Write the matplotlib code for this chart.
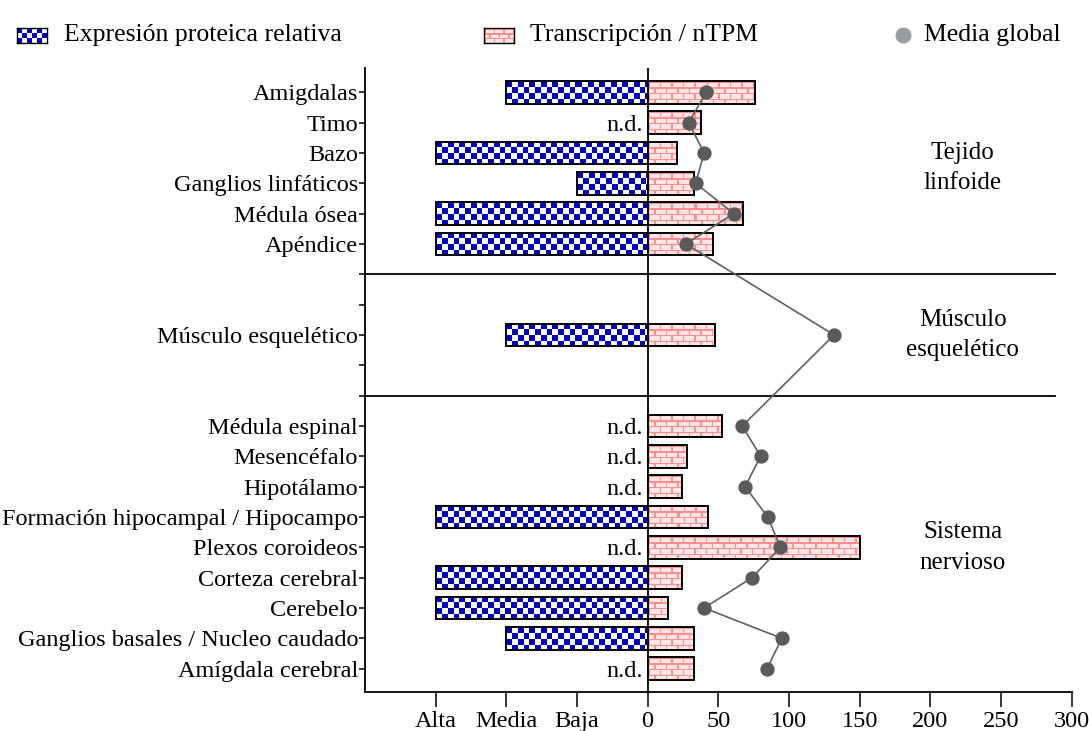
import numpy as np
import matplotlib
matplotlib.use("Agg")
import matplotlib.pyplot as plt
from matplotlib.patches import Rectangle
from matplotlib.lines import Line2D

# ---------------- data ----------------
group_names = ["Tejido\nlinfoide", "Músculo\nesquelético", "Sistema\nnervioso"]
group_sizes = [6, 1, 9]
categories = ["Amigdalas", "Timo", "Bazo", "Ganglios linfáticos", "Médula ósea", "Apéndice",
              "Músculo esquelético",
              "Médula espinal", "Mesencéfalo", "Hipotálamo", "Formación hipocampal / Hipocampo",
              "Plexos coroideos", "Corteza cerebral", "Cerebelo",
              "Ganglios basales / Nucleo caudado", "Amígdala cerebral"]
protein_level = ["Media", None, "Alta", "Baja", "Alta", "Alta",
                 "Media",
                 None, None, None, "Alta", None, "Alta", "Alta", "Media", None]
ntpm = [76, 38, 20.5, 32.5, 67.5, 46,
        48,
        53, 28, 24.5, 42.5, 150, 24.5, 14.5, 33, 33]
global_mean = [41.5, 29, 40, 34, 61, 27,
               132,
               67, 80, 69, 85, 94, 74, 40, 95, 84.5]
level_labels = ["Alta", "Media", "Baja"]
level_values = [150, 100, 50]
right_ticks = [0, 50, 100, 150, 200, 250, 300]

# ---------------- layout ----------------
plt.rcParams["font.family"] = ["Liberation Serif", "DejaVu Serif"]
FS = 17.5
fig = plt.figure(figsize=(10.89, 7.31), dpi=100)
ax = fig.add_axes([365 / 1089, 1 - 692.3 / 731, (1071.5 - 365) / 1089, (692.3 - 67.7) / 731])
XMIN, XMAX = -200, 300
YTOP, YBOT = -0.81, 19.78
ax.set_xlim(XMIN, XMAX)
ax.set_ylim(YBOT, YTOP)

# positions of rows (single-item groups get one padding slot on each side)
positions, dividers, group_centers = [], [], []
cur = 0
for gi, n in enumerate(group_sizes):
    pad = 1 if n == 1 else 0
    start = cur
    cur += pad
    for k in range(n):
        positions.append(cur)
        cur += 1
    cur += pad
    group_centers.append((start + cur - 1) / 2)
    if gi < len(group_sizes) - 1:
        dividers.append(cur)
        cur += 1

BAR_H = 0.75
level_map = dict(zip(level_labels, level_values))

blue = np.array([0.0, 0.0, 0.76])
white = np.array([1.0, 1.0, 1.0])
mortar = np.array([1.0, 0.56, 0.56])
brick = np.array([1.0, 0.90, 0.90])


def checker(hpx, wpx, s=5.75):
    yy, xx = np.mgrid[0:hpx, 0:wpx]
    m = ((np.floor(xx / s) + np.floor(yy / s)) % 2).astype(bool)
    img = np.tile(white, (hpx, wpx, 1)).astype(float)
    img[~m] = blue
    return img


def bricks(hpx, wpx, bh=5.75, bw=11.5):
    yy, xx = np.mgrid[0:hpx, 0:wpx]
    row = np.floor(yy / bh)
    off = (row % 2) * bw / 2
    m = ((yy % bh) < 1.3) | (((xx + off) % bw) < 1.3)
    img = np.tile(brick, (hpx, wpx, 1)).astype(float)
    img[m] = mortar
    return img


def px_size(x0, x1, y0, y1):
    p0 = ax.transData.transform((x0, y0))
    p1 = ax.transData.transform((x1, y1))
    return max(1, int(round(abs(p1[1] - p0[1])))), max(1, int(round(abs(p1[0] - p0[0]))))


def pattern_bar(x0, x1, yc, kind):
    y0, y1 = yc - BAR_H / 2, yc + BAR_H / 2
    hpx, wpx = px_size(x0, x1, y0, y1)
    img = checker(hpx, wpx) if kind == "checker" else bricks(hpx, wpx)
    rect = Rectangle((x0, y0), x1 - x0, y1 - y0, facecolor="none",
                     edgecolor="black", lw=1.4, zorder=4)
    ax.add_patch(rect)
    im = ax.imshow(img, extent=(x0, x1, y1, y0), origin="upper", aspect="auto",
                   interpolation="nearest", zorder=3)
    im.set_clip_path(rect)


for y, lvl, v in zip(positions, protein_level, ntpm):
    if lvl is None:
        ax.text(-3, y + 0.08, "n.d.", ha="right", va="center", fontsize=FS, zorder=5)
    else:
        pattern_bar(-level_map[lvl], 0, y, "checker")
    pattern_bar(0, v, y, "brick")

ax.plot(global_mean, positions, color="#606060", lw=1.2, marker="o", ms=9.3,
        mfc="#5a5a5a", mec="#5a5a5a", zorder=6)

ax.axvline(0, color="black", lw=1.3, zorder=5)
for d in dividers:
    ax.plot([XMIN, 288], [d, d], color="black", lw=1.3, zorder=5, clip_on=False)

for name, c in zip(group_names, group_centers):
    ax.text(223, c, name, ha="center", va="center", fontsize=18, linespacing=1.5)

ax.set_xlim(XMIN, XMAX)
ax.set_ylim(YBOT, YTOP)

# ticks
yt = np.arange(0, int(YBOT) + 1)
ax.set_yticks(yt)
lab = {p: c for p, c in zip(positions, categories)}
ax.set_yticklabels([lab.get(t, "") for t in yt], fontsize=FS)
ax.tick_params(axis="y", direction="out", length=4, width=1.1, pad=1)
ax.set_xticks([-v for v in level_values] + right_ticks)
ax.set_xticklabels(level_labels + [str(t) for t in right_ticks], fontsize=17.5)
ax.tick_params(axis="x", direction="out", length=11, width=1.1, pad=2.5)

for s in ["top", "right"]:
    ax.spines[s].set_visible(False)
for s in ["left", "bottom"]:
    ax.spines[s].set_linewidth(1.3)

# ---------------- legend (manual) ----------------
def legend_swatch(x, y, w, h, kind):
    la = fig.add_axes([x / 1089, 1 - (y + h) / 731, w / 1089, h / 731])
    img = checker(int(h), int(w), s=5.0) if kind == "checker" else bricks(int(h), int(w), bh=4.7, bw=9.5)
    la.imshow(img, aspect="auto", interpolation="nearest")
    la.set_xticks([]); la.set_yticks([])
    for sp in la.spines.values():
        sp.set_linewidth(1.0)


LFS = 18.5
LY = 1 - 35 / 731
legend_swatch(17, 28, 30, 15, "checker")
fig.text(64 / 1089, LY, "Expresión proteica relativa", fontsize=LFS, va="center", ha="left")
legend_swatch(484, 28, 30, 15, "brick")
fig.text(530 / 1089, LY, "Transcripción / nTPM", fontsize=LFS, va="center", ha="left")
fig.add_artist(Line2D([903 / 1089], [LY], transform=fig.transFigure, marker="o",
                      ms=10.5, color="#9c9ca4", ls="none"))
fig.text(924 / 1089, LY, "Media global", fontsize=LFS, va="center", ha="left")

fig.savefig("out.png", dpi=100)
